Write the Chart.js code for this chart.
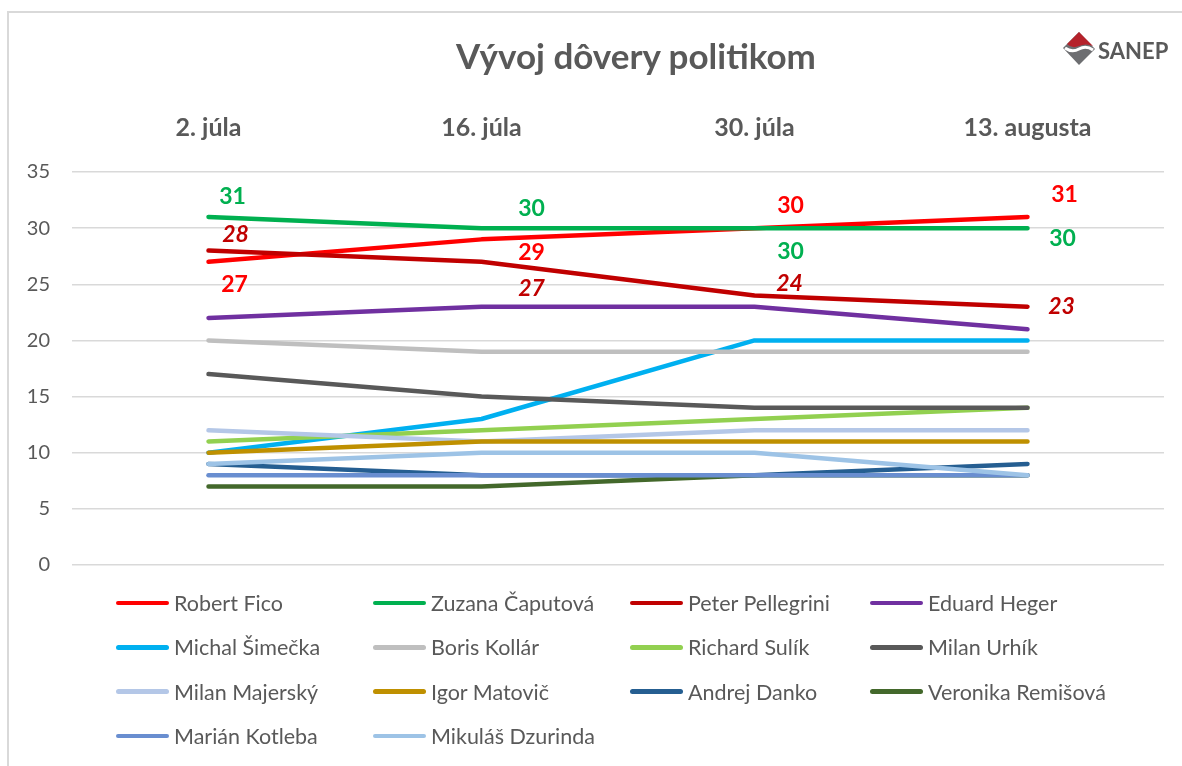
<!DOCTYPE html>
<html>
<head>
<meta charset="utf-8">
<script src="https://cdn.jsdelivr.net/npm/chart.js@4.4.0/dist/chart.umd.min.js"></script>
<style>
  body { margin: 0; background: #fff; font-family: Lato, "Open Sans", sans-serif; }
  #wrap { position: relative; width: 1182px; height: 766px; overflow: hidden; }
  #frame { position: absolute; left: 7px; top: 11px; width: 1200px; height: 800px;
           border-top: 2px solid #D9D9D9; border-left: 2px solid #D9D9D9; }
  #chart { position: absolute; left: 0; top: 0; }
  #title { position: absolute; left: 386px; width: 500px; top: 34px; text-align: center;
           font: bold 35px Lato, sans-serif; color: #595959; }
  #logo { position: absolute; left: 1058px; top: 28px; }
  #legend { position: absolute; left: 116px; top: 581px; display: grid;
            grid-template-columns: 257px 257px 240px 258px; grid-auto-rows: 44.3px; }
  .item { display: flex; align-items: center; font-size: 21.5px; color: #595959; white-space: nowrap; }
  .mark { width: 53px; height: 4.5px; border-radius: 3px; margin-right: 5px; }
</style>
</head>
<body>
<div id="wrap">
  <div id="frame"></div>
  <canvas id="chart" width="1182" height="766"></canvas>
  <div id="title">Vývoj dôvery politikom</div>
  <svg id="logo" width="120" height="45" viewBox="0 0 120 45">
    <polygon points="5,20 21,4 37,21 21,37" fill="#6D6E71"/>
    <path d="M9,16 L21,4 L35,18 Q28,15 21,18 Q14,21 9,16 Z" fill="#B5222B"/>
    <path d="M7,20 Q14,25 21,21 Q28,17 35,22" stroke="#fff" stroke-width="3" fill="none"/>
    <text x="40" y="31" font-family="Lato, sans-serif" font-weight="bold" font-size="22" fill="#595959">SANEP</text>
  </svg>
  <div id="legend"></div>
</div>
<script>
const dates = ["2. júla", "16. júla", "30. júla", "13. augusta"];
const names = [
  "Robert Fico", "Zuzana Čaputová", "Peter Pellegrini", "Eduard Heger",
  "Michal Šimečka", "Boris Kollár", "Richard Sulík", "Milan Urhík",
  "Milan Majerský", "Igor Matovič", "Andrej Danko", "Veronika Remišová",
  "Marián Kotleba", "Mikuláš Dzurinda"
];
const fico = [27, 29, 30, 31];
const caputova = [31, 30, 30, 30];
const pellegrini = [28, 27, 24, 23];
const heger = [22, 23, 23, 21];
const simecka = [10, 13, 20, 20];
const kollar = [20, 19, 19, 19];
const sulik = [11, 12, 13, 14];
const urhik = [17, 15, 14, 14];
const majersky = [12, 11, 12, 12];
const matovic = [10, 11, 11, 11];
const danko = [9, 8, 8, 9];
const remisova = [7, 7, 8, 8];
const kotleba = [8, 8, 8, 8];
const dzurinda = [9, 10, 10, 8];
const yTicks = [0, 5, 10, 15, 20, 25, 30, 35];

const series = [fico, caputova, pellegrini, heger, simecka, kollar, sulik,
  urhik, majersky, matovic, danko, remisova, kotleba, dzurinda];
const colors = ["#FF0000", "#00B050", "#C00000", "#7030A0", "#00B0F0", "#BFBFBF", "#92D050",
  "#595959", "#B4C7E7", "#BF9000", "#255E91", "#43682B", "#698ED0", "#9DC3E6"];

const datasets = series.map((data, i) => ({
  label: names[i],
  data,
  borderColor: colors[i],
  backgroundColor: colors[i],
  borderWidth: 4.5,
  borderCapStyle: "round",
  borderJoinStyle: "round",
  pointRadius: 0,
  tension: 0,
  order: series.length - i, // later series on top, like Excel
}));

// value labels for the first three series, offsets relative to the point
const valueLabels = {
  id: "valueLabels",
  afterDatasetsDraw(chart, args, opts) {
    const ctx = chart.ctx;
    opts.items.forEach((it) => {
      const meta = chart.getDatasetMeta(it.index);
      const vals = chart.data.datasets[it.index].data;
      ctx.save();
      ctx.font = (it.italic ? "italic " : "") + "bold 23px Lato, sans-serif";
      ctx.fillStyle = it.color;
      ctx.textAlign = "center";
      ctx.textBaseline = "middle";
      meta.data.forEach((pt, j) => {
        const [dx, dy] = it.offsets[j];
        ctx.fillText(String(vals[j]), pt.x + dx, pt.y + dy);
      });
      ctx.restore();
    });
  },
};

const htmlLegend = {
  id: "htmlLegend",
  afterUpdate(chart) {
    const box = document.getElementById("legend");
    box.innerHTML = "";
    chart.data.datasets.forEach((ds) => {
      const item = document.createElement("div");
      item.className = "item";
      item.innerHTML = `<span class="mark" style="background:${ds.borderColor}"></span><span>${ds.label}</span>`;
      box.appendChild(item);
    });
  },
};

new Chart(document.getElementById("chart"), {
  type: "line",
  data: { labels: dates, datasets },
  plugins: [valueLabels, htmlLegend],
  options: {
    responsive: false,
    animation: false,
    layout: { padding: { left: 10, right: 18, top: 112, bottom: 201 } },
    scales: {
      x: {
        position: "top",
        offset: true,
        grid: { display: false },
        border: { display: false },
        ticks: { color: "#595959", font: { family: "Lato", size: 25, weight: "bold" }, padding: 21 },
        afterFit: (s) => { s.height = 60; },
      },
      y: {
        min: 0,
        max: 35,
        afterBuildTicks: (s) => { s.ticks = yTicks.map((v) => ({ value: v })); },
        grid: { color: "#D9D9D9", lineWidth: 1.5, drawTicks: false },
        border: { display: false },
        ticks: { color: "#595959", font: { family: "Lato", size: 20 }, padding: 22 },
        afterFit: (s) => { s.width = 62; },
      },
    },
    plugins: {
      legend: { display: false },
      tooltip: { enabled: false },
      title: { display: false },
      valueLabels: {
        items: [
          { index: 0, color: "#FF0000", italic: false, offsets: [[26, 23], [50, 13], [36, -23], [37, -22]] },
          { index: 1, color: "#00B050", italic: false, offsets: [[24, -20], [50, -20], [36, 23], [35, 10]] },
          { index: 2, color: "#C00000", italic: true, offsets: [[27, -16], [50, 27], [35, -12], [34, 0]] },
        ],
      },
    },
  },
});
</script>
</body>
</html>
